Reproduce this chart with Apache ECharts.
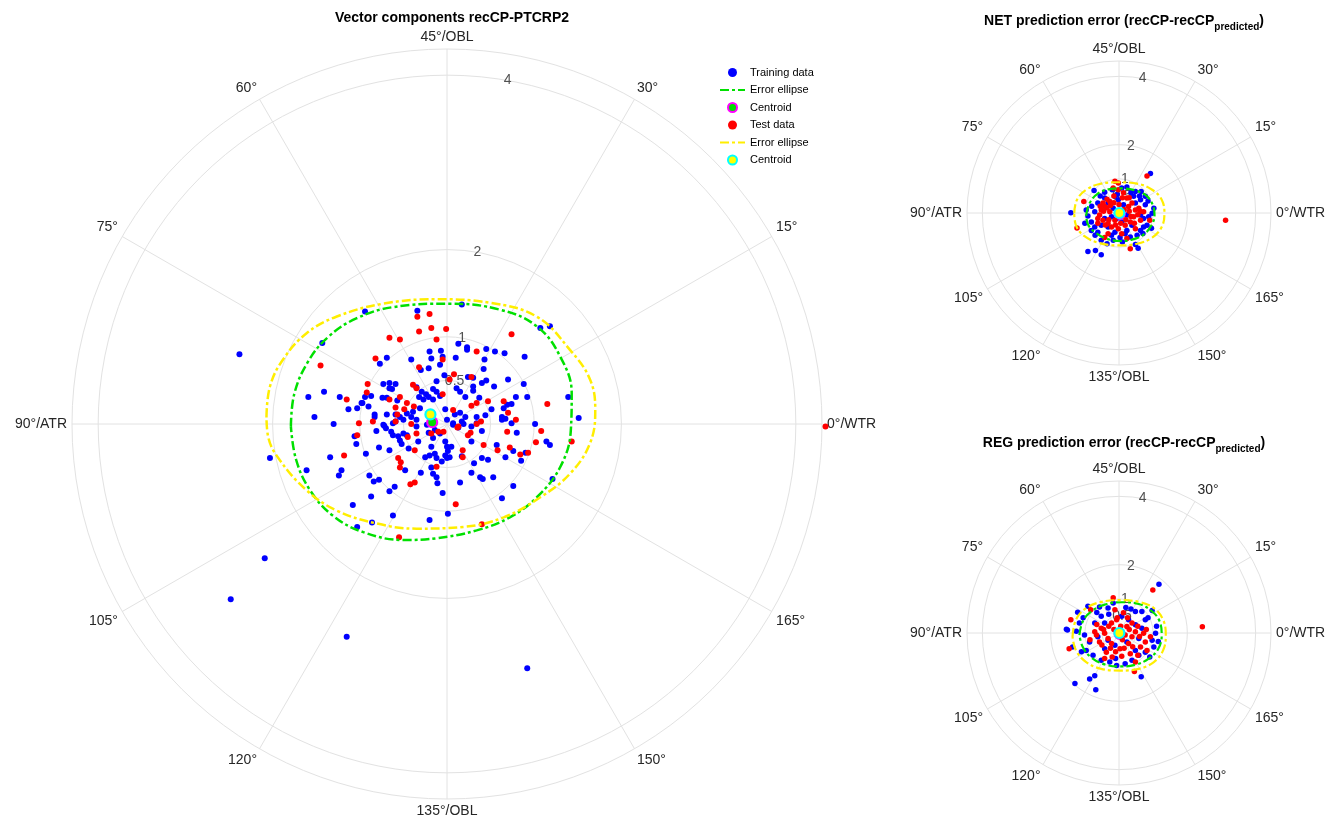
<!DOCTYPE html>
<html><head><meta charset="utf-8">
<script src="https://cdn.jsdelivr.net/npm/echarts@6/dist/echarts.min.js"></script>
<style>html,body{margin:0;padding:0;background:#fff}#c{width:1342px;height:828px}</style>
</head><body><div id="c"></div><script>
// ---------- tick labels ----------
const angleNames = ['0°/WTR','15°','30°','45°/OBL','60°','75°','90°/ATR','105°','120°','135°/OBL','150°','165°'];
const radialTicks = [0.5, 1, 2, 4];

// ---------- Main plot: vector components (x = WTR axis, y = OBL axis) ----------
const mainTrain = [
[-0.34,1.30],[-1.43,0.93],[-0.69,0.76],[-0.77,0.69],[-0.41,0.74],[-0.20,0.83],[-0.07,0.84],[-0.18,0.75],[-0.08,0.68],[-0.21,0.64],
[-0.30,0.62],[-0.03,0.56],[-0.12,0.49],[-0.73,0.46],[-0.66,0.47],[-0.59,0.46],[-0.66,0.41],[-0.63,0.40],[-0.35,0.42],[-1.41,0.37],
[-1.59,0.31],[-1.23,0.31],[-0.94,0.31],[-0.87,0.32],[-0.97,0.24],[-0.74,0.30],[-0.69,0.30],[-0.57,0.27],[-0.29,0.37],[-0.24,0.34],
[-0.32,0.31],[-0.27,0.28],[-0.21,0.31],[-0.16,0.40],[-0.12,0.37],[-0.08,0.32],[-0.16,0.28],[-1.13,0.17],[-1.03,0.18],[-0.98,0.24],
[-0.90,0.20],[-0.83,0.11],[-0.83,0.08],[-0.69,0.11],[-0.59,0.11],[-0.54,0.08],[-0.46,0.12],[-0.39,0.14],[-0.31,0.18],[-1.52,0.08],
[-1.30,0.00],[-0.73,-0.01],[-0.62,0.01],[-0.41,0.08],[-0.35,0.05],[-2.38,0.80],
[0.17,1.37],[1.07,1.10],[1.18,1.12],[0.13,0.92],[0.23,0.88],[0.23,0.85],[0.45,0.86],[0.55,0.83],[0.66,0.81],[0.10,0.76],
[0.43,0.74],[0.89,0.77],[0.42,0.63],[-0.05,0.77],[0.24,0.54],[0.30,0.53],[0.45,0.50],[0.40,0.47],[0.70,0.51],[0.88,0.46],
[0.30,0.43],[0.30,0.38],[0.21,0.31],[0.15,0.37],[0.11,0.41],[0.37,0.30],[0.54,0.43],[0.79,0.31],[0.92,0.31],[0.74,0.23],
[0.69,0.22],[0.65,0.18],[0.63,0.08],[0.67,0.06],[0.51,0.17],[1.39,0.31],[1.51,0.07],[1.01,0.00],[-0.02,0.17],[0.09,0.11],
[0.15,0.13],[0.21,0.08],[0.17,0.03],[0.07,-0.01],[0.00,0.05],[0.44,0.10],[0.34,0.08],[0.28,-0.03],
[-0.81,-0.08],[-0.72,-0.02],[-0.70,-0.05],[-0.64,-0.09],[-0.62,-0.13],[-0.59,0.03],[-0.50,0.05],[-0.56,-0.14],[-0.50,-0.11],[-0.46,-0.13],
[-0.54,-0.19],[-0.52,-0.23],[-1.06,-0.14],[-1.04,-0.23],[-0.78,-0.27],[-0.66,-0.30],[-0.44,-0.28],[-0.35,-0.03],[-0.33,-0.20],[-0.23,-0.01],
[-0.21,-0.10],[-0.16,-0.16],[-0.18,-0.26],[-0.14,-0.07],[-0.08,-0.11],[-2.03,-0.39],[-1.34,-0.38],[-0.93,-0.34],[-0.25,-0.38],[-0.20,-0.36],
[-0.14,-0.34],[-0.12,-0.39],[-0.06,-0.43],[-0.02,-0.36],[0.00,-0.39],[-1.61,-0.53],[-1.21,-0.53],[-1.24,-0.59],[-0.48,-0.53],[-0.89,-0.59],
[-0.84,-0.66],[-0.78,-0.64],[-0.30,-0.56],[-0.18,-0.50],[-0.16,-0.57],[-0.12,-0.61],[-0.11,-0.68],[-0.66,-0.77],[-0.60,-0.72],[-0.05,-0.79],
[-0.87,-0.83],[-1.08,-0.93],[-0.62,-1.05],[-0.20,-1.10],[-1.03,-1.18],[-2.09,-1.54],
[0.07,0.01],[0.19,0.00],[0.13,-0.04],[0.34,0.01],[0.40,-0.08],[0.63,0.05],[0.74,0.01],[0.80,-0.10],[-0.02,-0.20],[0.00,-0.26],
[0.05,-0.26],[0.01,-0.31],[0.03,-0.38],[0.28,-0.20],[0.57,-0.24],[0.76,-0.31],[0.90,-0.33],[1.14,-0.20],[1.18,-0.24],[0.17,-0.37],
[0.31,-0.45],[0.40,-0.39],[0.47,-0.41],[0.67,-0.38],[0.85,-0.42],[0.28,-0.56],[0.38,-0.61],[0.41,-0.63],[0.53,-0.61],[1.21,-0.63],
[0.15,-0.67],[0.76,-0.71],[0.63,-0.85],[0.01,-1.03],
[-2.48,-2.01],[-1.15,-2.44],[0.92,-2.80],[-0.94,1.29],[-0.86,-1.13]
];
const mainTest = [
[-0.34,1.23],[-0.20,1.26],[-0.32,1.06],[-0.18,1.10],[-0.01,1.09],[-0.66,0.99],[-0.54,0.97],[-0.12,0.97],[-0.82,0.75],[-0.32,0.65],
[-0.05,0.74],[-1.45,0.67],[-0.91,0.46],[-0.92,0.36],[-0.39,0.45],[-0.35,0.41],[-0.05,0.34],[-1.15,0.28],[-0.66,0.28],[-0.54,0.31],
[-0.46,0.24],[-0.49,0.17],[-0.59,0.19],[-0.38,0.20],[-0.57,0.11],[-0.59,0.03],[-1.01,0.01],
[0.74,1.03],[0.34,0.83],[0.08,0.57],[0.28,0.54],[0.03,0.51],[0.28,0.21],[0.34,0.24],[0.47,0.26],[0.65,0.26],[0.07,0.16],
[0.70,0.13],[0.39,0.03],[0.79,0.05],[1.15,0.23],[0.13,-0.03],
[-0.85,0.03],[-0.41,0.00],[-1.03,-0.13],[-0.45,-0.15],[-0.35,-0.11],[-0.18,-0.11],[-0.10,-0.09],[-0.04,-0.09],[-1.18,-0.36],[-0.37,-0.30],
[-0.56,-0.39],[-0.53,-0.44],[-0.54,-0.50],[-0.12,-0.49],[-0.42,-0.69],[-0.37,-0.67],[-0.55,-1.30],
[0.12,-0.04],[0.24,-0.13],[0.27,-0.10],[0.34,0.00],[0.69,-0.09],[0.42,-0.24],[0.58,-0.30],[0.72,-0.27],[0.84,-0.35],[0.93,-0.33],
[0.18,-0.30],[0.18,-0.38],[1.08,-0.08],[1.02,-0.21],[1.43,-0.20],[0.10,-0.92],[0.40,-1.15],[4.34,-0.03]
];
const mainTrainEllipse = [
[-1.79,-0.03],[-1.75,0.35],[-1.59,0.72],[-1.36,1.00],[-1.04,1.21],[-0.62,1.34],[0.03,1.38],[0.61,1.31],[1.03,1.12],[1.30,0.77],
[1.43,0.35],[1.42,-0.07],[1.30,-0.49],[1.03,-0.84],[0.72,-1.07],[0.34,-1.22],[-0.12,-1.31],[-0.50,-1.33],[-0.96,-1.24],[-1.31,-1.05],
[-1.57,-0.76],[-1.73,-0.41]
];
const mainTestEllipse = [
[-2.07,0.08],[-2.03,0.43],[-1.88,0.74],[-1.61,1.04],[-1.27,1.23],[-0.73,1.38],[-0.12,1.43],[0.49,1.39],[1.03,1.23],[1.41,0.85],
[1.64,0.51],[1.70,0.16],[1.64,-0.22],[1.41,-0.57],[1.07,-0.84],[0.65,-1.07],[0.19,-1.18],[-0.35,-1.20],[-0.81,-1.14],[-1.27,-0.99],
[-1.61,-0.76],[-1.92,-0.41],[-2.05,-0.15]
];
const mainTrainCentroid = [[-0.17,0.02]];
const mainTestCentroid = [[-0.19,0.11]];

// ---------- NET prediction error ----------
const netTrain = [
[0.92,1.16],[-1.41,0.01],[-0.91,-1.13],[-0.69,-1.10],[-0.52,-1.22],[0.56,-1.03],[-0.73,0.66],[-0.42,0.61],[-0.20,0.68],[0.08,0.73],
[0.23,0.76],[0.48,0.63],[0.65,0.63],[0.77,0.49],[-0.42,0.44],[-0.12,0.49],[0.43,0.49],[0.63,0.39],[-0.96,0.09],[-0.91,-0.09],
[-0.81,-0.26],[-0.81,-0.51],[-0.62,-0.56],[-0.71,-0.41],[-0.52,-0.36],[1.02,0.14],[0.97,-0.01],[0.77,0.24],[0.72,-0.16],[0.82,-0.36],
[0.63,-0.51],[0.53,-0.65],[0.87,-0.11],[-0.22,-0.65],[0.03,-0.72],[0.18,-0.61],[-0.17,-0.80],[0.33,-0.70],[-0.12,-0.56],[0.48,-0.92],
[-0.32,0.29],[-0.17,0.14],[0.13,0.24],[0.23,-0.06],[-0.22,-0.11],[-0.42,-0.16],[0.08,-0.26],[0.38,-0.36],[-0.02,0.39],[-0.71,0.04],
[0.63,-0.06],[0.72,-0.41],[-0.62,0.29],[0.48,0.29],[-0.32,-0.41],[0.23,-0.51],[-0.07,-0.16],[-0.52,-0.80],
[-0.05,0.55],[0.35,0.60],[-0.55,0.50],[0.60,0.50],[-0.80,0.20],[0.85,0.35],[-0.70,-0.65],[0.70,-0.60],[0.10,-0.85],[-0.35,-0.90],
[0.95,-0.45],[-1.00,-0.30]
];
const netTest = [
[0.82,1.08],[-0.12,0.93],[-0.02,0.88],[-1.03,0.34],[-1.23,-0.44],[-0.42,-0.72],[0.33,-1.05],[0.90,-0.21],[0.72,0.04],[-0.17,0.73],
[-0.02,0.68],[0.13,0.59],[0.23,0.44],[-0.42,0.19],[-0.52,0.09],[-0.57,-0.06],[-0.47,-0.21],[-0.32,-0.31],[-0.22,-0.41],[-0.02,-0.46],
[0.18,-0.36],[0.33,-0.26],[0.43,-0.11],[0.48,0.09],[0.28,0.19],[0.38,0.29],[0.58,0.14],[0.63,-0.21],[0.08,-0.61],[-0.32,-0.61],
[-0.62,-0.16],[-0.47,0.29],[-0.27,0.34],[0.48,-0.46],[0.23,-0.75],[-0.27,0.04],[0.08,-0.01],[-0.12,-0.21],[3.12,-0.21],
[-0.45,0.05],[-0.35,0.15],[-0.25,0.22],[-0.15,0.30],[0.00,0.25],[0.15,0.10],[0.30,0.05],[0.35,-0.10],[0.20,-0.20],[0.05,-0.30],
[-0.10,-0.35],[-0.30,-0.20],[-0.40,-0.35],[-0.55,0.20],[0.55,-0.05],[0.45,-0.30],[-0.15,0.50],[0.10,0.45],[0.30,0.45],[-0.35,0.40],
[-0.62,-0.30],[0.62,0.05]
];
const netTrainEllipse = [
[-0.96,-0.06],[-0.86,0.29],[-0.62,0.57],[-0.27,0.70],[0.08,0.72],[0.48,0.66],[0.82,0.49],[1.00,0.21],[1.04,-0.06],[0.95,-0.36],
[0.72,-0.63],[0.38,-0.78],[0.03,-0.82],[-0.37,-0.75],[-0.71,-0.56],[-0.91,-0.33]
];
const netTestEllipse = [
[-1.31,-0.01],[-1.23,0.39],[-0.96,0.68],[-0.57,0.85],[-0.02,0.90],[0.53,0.86],[0.97,0.68],[1.25,0.39],[1.33,-0.01],[1.25,-0.41],
[0.97,-0.72],[0.53,-0.90],[-0.02,-0.95],[-0.57,-0.88],[-1.01,-0.68],[-1.26,-0.36]
];
const netTrainCentroid = [[0.02,-0.03]];
const netTestCentroid = [[0.01,0.00]];

// ---------- REG prediction error ----------
const regTrain = [
[1.17,1.43],[-1.21,0.61],[-0.91,0.78],[-0.57,0.76],[-0.32,0.73],[0.48,0.63],[0.67,0.63],[0.97,0.66],[0.77,0.39],[1.07,-0.01],
[0.97,-0.21],[1.02,-0.41],[0.77,-0.56],[0.58,-0.65],[0.48,-0.51],[0.38,-0.80],[0.18,-0.90],[-0.07,-0.95],[-0.27,-0.85],[-0.52,-0.80],
[-0.76,-0.65],[-0.96,-0.51],[-1.36,-0.41],[-1.51,0.09],[-1.16,0.29],[-1.01,-0.06],[-0.86,-0.26],[-0.71,0.29],[-0.52,0.49],[-0.42,0.29],
[0.08,0.49],[0.28,0.39],[0.48,0.24],[0.67,0.14],[0.58,-0.16],[0.23,-0.26],[-0.12,-0.36],[-0.32,-0.21],[-0.62,-0.11],[-0.42,-0.46],
[-0.86,-1.35],[-0.71,-1.25],[0.65,-1.28],[-1.29,-1.48],[-0.68,-1.66],[-1.54,0.11],[-0.17,0.88],
[-1.05,0.45],[-0.65,0.60],[0.20,0.75],[0.85,0.45],[1.10,0.20],[1.15,-0.25],[0.90,-0.70],[-0.10,-0.75],[-1.10,-0.55],[-1.25,0.05],
[-0.30,0.55],[0.35,0.70]
];
const regTest = [
[0.99,1.26],[-0.17,1.03],[-0.83,0.68],[-1.41,0.39],[-1.46,-0.46],[-0.71,0.04],[-0.66,-0.06],[-0.52,0.14],[-0.42,-0.01],[-0.32,-0.16],
[-0.22,-0.31],[-0.37,-0.56],[-0.42,-0.75],[0.08,-0.68],[0.33,-0.61],[0.48,-0.85],[0.45,-1.13],[0.63,-0.41],[0.77,-0.26],[0.92,-0.11],
[0.72,-0.01],[0.48,0.04],[0.38,-0.11],[0.18,-0.06],[0.23,0.19],[0.38,0.29],[0.13,0.59],[-0.07,0.39],[-0.22,0.29],[-0.57,-0.26],
[0.03,-0.46],[0.28,-0.31],[-0.12,0.68],[0.82,-0.51],[2.44,0.18],
[-0.45,0.10],[-0.30,0.20],[-0.15,0.10],[0.05,0.20],[0.10,-0.20],[0.30,0.10],[0.55,0.20],[0.60,-0.10],[0.40,-0.40],[0.15,-0.45],
[-0.10,-0.55],[-0.25,-0.45],[-0.50,-0.35],[-0.65,0.25],[-0.05,0.45],[0.25,0.45],[0.80,0.10],[-0.85,-0.20],[0.55,-0.65],[-0.20,-0.70]
];
const regTrainEllipse = [
[-1.16,-0.06],[-1.06,0.34],[-0.81,0.63],[-0.42,0.83],[0.08,0.90],[0.58,0.85],[0.97,0.63],[1.19,0.34],[1.25,-0.06],[1.15,-0.46],
[0.87,-0.75],[0.48,-0.93],[0.03,-0.98],[-0.42,-0.92],[-0.81,-0.72],[-1.06,-0.41]
];
const regTestEllipse = [
[-1.36,-0.11],[-1.26,0.39],[-0.96,0.73],[-0.52,0.91],[0.03,0.96],[0.58,0.91],[1.02,0.73],[1.29,0.39],[1.37,-0.06],[1.29,-0.51],
[1.02,-0.85],[0.58,-1.05],[0.03,-1.10],[-0.52,-1.05],[-0.96,-0.85],[-1.26,-0.51]
];
const regTrainCentroid = [[0.02,-0.03]];
const regTestCentroid = [[0.01,0.00]];

// ---------- build ----------
const FONT = '"Liberation Sans", Arial, Helvetica, sans-serif';
const toPolar = p => [Math.hypot(p[0], p[1]), (Math.atan2(p[1], p[0]) * 180 / Math.PI + 360) % 360];
const closeLoop = arr => arr.concat([arr[0]]).map(toPolar);
const GRID = '#e2e2e2';
const CLEAR = 'rgba(0,0,0,0)';

const plots = [
  {key:'main', center:[447,424], radius:375, max:4.3, dot:6, cen:10, lw:2.5,
   train:mainTrain, test:mainTest, trE:mainTrainEllipse, teE:mainTestEllipse, trC:mainTrainCentroid, teC:mainTestCentroid,
   names:['Training data','Error ellipse','Centroid','Test data','Error ellipse ','Centroid ']},
  {key:'net', center:[1119,213], radius:152, max:4.45, dot:5.5, cen:10, lw:2.2,
   train:netTrain, test:netTest, trE:netTrainEllipse, teE:netTestEllipse, trC:netTrainCentroid, teC:netTestCentroid,
   names:['NET training','NET train ellipse','NET train centroid','NET test','NET test ellipse','NET test centroid']},
  {key:'reg', center:[1119,633], radius:152, max:4.45, dot:5.5, cen:10, lw:2.2,
   train:regTrain, test:regTest, trE:regTrainEllipse, teE:regTestEllipse, trC:regTrainCentroid, teC:regTestCentroid,
   names:['REG training','REG train ellipse','REG train centroid','REG test','REG test ellipse','REG test centroid']}
];

const polar = [], angleAxis = [], radiusAxis = [], series = [];
plots.forEach((p, i) => {
  polar.push({center: p.center, radius: p.radius});
  angleAxis.push({
    polarIndex: i, type: 'value', min: 0, max: 360, interval: 30, startAngle: 0, clockwise: false,
    axisLine: {show: true, lineStyle: {color: GRID, width: 1}},
    axisTick: {show: false},
    splitLine: {show: true, lineStyle: {color: GRID, width: 1}},
    axisLabel: {margin: 5, fontSize: 14, color: '#262626', fontFamily: FONT,
      formatter: v => angleNames[Math.round(v / 30) % 12]}
  });
  radiusAxis.push({
    polarIndex: i, type: 'value', min: 0, max: p.max,
    axisLine: {show: false}, axisLabel: {show: false},
    axisTick: {show: false, customValues: radialTicks},
    splitLine: {show: true, lineStyle: {color: GRID, width: 1}}
  });
  const ell = (name, data, color) => ({
    name, type: 'line', coordinateSystem: 'polar', polarIndex: i, data: closeLoop(data),
    symbol: 'none', smooth: 0.4, silent: true, clip: false,
    lineStyle: {color, width: p.lw, type: [9, 3, 3, 3]},
    itemStyle: {color: CLEAR, borderColor: CLEAR, borderWidth: 0, opacity: 0}
  });
  series.push(
    {name: p.key + ' radial labels', type: 'scatter', coordinateSystem: 'polar', polarIndex: i, silent: true,
     symbolSize: 0, z: 1, data: radialTicks.map(v => [v, 80]),
     label: {show: true, position: 'inside', color: '#262626', fontSize: 14, fontFamily: FONT,
       formatter: q => String(q.value[0])}},
    {name: p.names[0], type: 'scatter', coordinateSystem: 'polar', polarIndex: i, symbolSize: p.dot,
     data: p.train.map(toPolar), itemStyle: {color: '#0000ff', opacity: 1}, clip: false},
    ell(p.names[1], p.trE, '#00e000'),
    {name: p.names[2], type: 'scatter', coordinateSystem: 'polar', polarIndex: i, symbolSize: p.cen,
     data: p.trC.map(toPolar), itemStyle: {color: '#00dd00', borderColor: '#ff00ff', borderWidth: 2.2, opacity: 1}},
    {name: p.names[3], type: 'scatter', coordinateSystem: 'polar', polarIndex: i, symbolSize: p.dot,
     data: p.test.map(toPolar), itemStyle: {color: '#ff0000', opacity: 1}, clip: false},
    ell(p.names[4], p.teE, '#ffee00'),
    {name: p.names[5], type: 'scatter', coordinateSystem: 'polar', polarIndex: i, symbolSize: p.cen,
     data: p.teC.map(toPolar), itemStyle: {color: '#ffff00', borderColor: '#00ffff', borderWidth: 2.2, opacity: 1}}
  );
});

const richTitle = {
  b: {fontSize: 14, fontWeight: 'bold', color: '#000', fontFamily: FONT, verticalAlign: 'top', lineHeight: 18},
  s: {fontSize: 10, fontWeight: 'bold', color: '#000', fontFamily: FONT, verticalAlign: 'bottom', lineHeight: 12, padding: [9, 0, 0, 0]}
};

const chart = echarts.init(document.getElementById('c'), null, {renderer: 'canvas'});
chart.setOption({
  animation: false,
  backgroundColor: '#ffffff',
  textStyle: {fontFamily: FONT},
  title: [
    {text: 'Vector components recCP-PTCRP2', left: 447, top: 6, textAlign: 'center',
     textStyle: {fontSize: 14, fontWeight: 'bold', color: '#000', fontFamily: FONT}},
    {text: '{b|NET prediction error (recCP-recCP}{s|predicted}{b|)}', left: 1119, top: 9, textAlign: 'center',
     textStyle: {rich: richTitle}},
    {text: '{b|REG prediction error (recCP-recCP}{s|predicted}{b|)}', left: 1119, top: 431, textAlign: 'center',
     textStyle: {rich: richTitle}}
  ],
  legend: {
    data: plots[0].names, orient: 'vertical', left: 714, top: 62,
    itemWidth: 25, itemHeight: 9, itemGap: 6.5, selectedMode: false,
    formatter: n => n.trim(),
    textStyle: {fontSize: 11, color: '#000', fontFamily: FONT}
  },
  polar, angleAxis, radiusAxis, series
});
</script></body></html>
